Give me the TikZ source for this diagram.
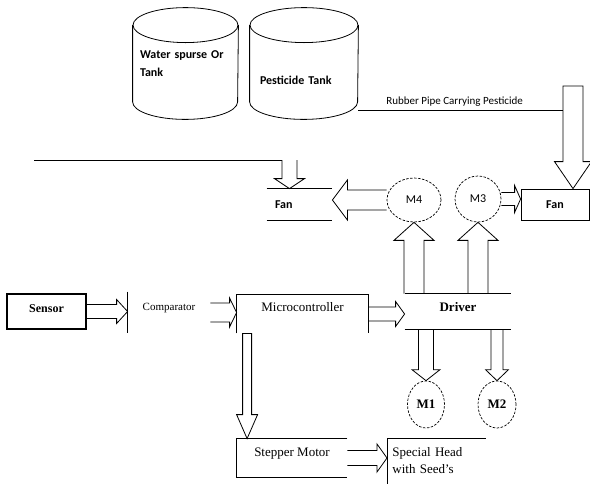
\documentclass[tikz,border=0pt]{standalone}
\usepackage{fontspec}
\setmainfont{Liberation Serif}
\newfontfamily\calibri{Carlito}
\usetikzlibrary{calc, positioning, shapes.geometric}
\tikzset{
    hollow end/.store in=\hollowend, hollow end={},
    closed/.style={hollow end={-- cycle}},
    % open block arrow: shaft half width, head half width, head length
    hollow/.style n args={3}{to path={
        let \p1=($(\tikztotarget)-(\tikztostart)$), \n1={veclen(\x1,\y1)}, \n2={atan2(\y1,\x1)} in
        {[shift={(\tikztostart)}, rotate=\n2]
        (0pt,#1pt) -- ({\n1-#3pt},#1pt) -- ({\n1-#3pt},#2pt) -- ({\n1},0pt)
        -- ({\n1-#3pt},-#2pt) -- ({\n1-#3pt},-#1pt) -- (0pt,-#1pt) \hollowend}}},
}

\begin{document}
\begin{tikzpicture}
    [x=1pt, y=-1pt, line width=0.8pt,
    every node/.style={inner sep=0pt},
    serif/.style={font=\fontsize{13}{17}\selectfont},
    serifbf/.style={font=\bfseries\fontsize{13}{17}\selectfont},
    sans/.style={font=\calibri\fontsize{12}{18}\selectfont},
    sansbf/.style={font=\calibri\bfseries\fontsize{12}{18}\selectfont},
    blk/.style={rectangle, text height=9pt},
    tank/.style={sansbf, minimum height=111pt, align=left},
    fan/.style={sansbf, minimum height=31pt},
    motor/.style={ellipse, draw, dash pattern=on 2.5pt off 1.5pt, line width=0.7pt}]
    \useasboundingbox (0,0) rectangle (590,483);

    % tanks
    \node[tank, minimum width=105pt, text width=91pt] (wt) at (185.5,63.5) {Water spurse Or\\Tank};
    \node[tank, minimum width=108pt, text width=88pt, text height=41.6pt, text depth=0pt] (pt) at (304,63.5) {Pesticide Tank};
    \foreach \tk/\r in {wt/52.5, pt/54}{
        \draw ([yshift=-17.5pt]\tk.north) ellipse [x radius=\r pt, y radius=17.5pt];
        \draw ([yshift=-17.5pt]\tk.north west) -- ([yshift=17.5pt]\tk.south west)
            arc [start angle=180, end angle=360, x radius=\r pt, y radius=17.5pt]
            -- ([yshift=-17.5pt]\tk.north east);
    }

    % fans and fan motors
    \node[fan, minimum width=65pt, text width=49pt, align=left] (fanL) at (299.5,204.5) {Fan};
    \node[fan, draw, minimum width=68pt] (fanR) at (555,204.5) {Fan};
    \node[motor, sans, minimum width=54pt, minimum height=44pt] (m4) at (414,200) {M4};
    \node[motor, sans, minimum width=46pt, minimum height=46pt] (m3) at (478,199) {M3};

    % control chain
    \node[blk, draw, line width=1.1pt, font=\bfseries\fontsize{12}{15}\selectfont,
        minimum width=79pt, minimum height=35pt, text depth=7pt] (sensor) at (46.5,311.5) {Sensor};
    \node[blk, font=\fontsize{11}{14}\selectfont, minimum width=82pt, minimum height=41pt, text depth=13pt] (comp) at (169,312.5) {Comparator};
    \node[blk, serif, minimum width=131pt, minimum height=38pt, text depth=14pt] (micro) at (302.5,314) {Microcontroller};
    \node[blk, serifbf, minimum width=106pt, minimum height=35pt, text depth=9pt] (driver) at (458,311.5) {Driver};
    \node[blk, serif, minimum width=110pt, minimum height=38pt, text depth=12pt] (stepper) at (292,458) {Stepper Motor};
    \node[serif, anchor=north west, minimum width=98pt, minimum height=45pt, text width=88pt, align=left] (special) at (387,438) {Special Head\\with Seed's};
    \node[motor, serifbf, minimum width=37pt, minimum height=47pt] (m1) at (426,404.5) {M1};
    \node[motor, serifbf, minimum width=38pt, minimum height=47pt] (m2) at (497,404.5) {M2};

    % open outlines
    \draw (fanL.north west) -- (fanL.north east) (fanL.south west) -- (fanL.south east);
    \draw[line width=1.1pt] (comp.north west) -- (comp.south west);
    \draw (micro.south west) -- (micro.north west) -- (micro.north east) -- (micro.south east);
    \draw (driver.north west) -- (driver.north east) (driver.south west) -- (driver.south east);
    \draw (stepper.north east) -- (stepper.north west) -- (stepper.south west) -- (stepper.south east);
    \draw (special.south west) -- (special.north west) -- (special.north east);

    % block arrows
    \draw[hollow={7}{12}{11}] (sensor.east) to (sensor.east -| comp.west);
    \draw[hollow={9.5}{14.5}{7}] (comp.east) to (comp.east -| micro.west);
    \draw[hollow={7}{12.5}{9}] (micro.east) to (micro.east -| driver.west);
    \draw[hollow={4.5}{10.5}{24}, closed] ([xshift=10.5pt]micro.south west) to ([xshift=10.5pt]stepper.north west);
    \draw[hollow={7.5}{14}{10}] (stepper.east) to (stepper.east -| special.west);
    \draw[hollow={10}{20}{18}] (driver.north -| m4.south) to (m4.south);
    \draw[hollow={10}{20}{18}] (driver.north -| m3.south) to (m3.south);
    \draw[hollow={7.5}{14}{11}] (driver.south -| m1.north) to (m1.north);
    \draw[hollow={6}{11.5}{11}] (driver.south -| m2.north) to (m2.north);
    \draw[hollow={10}{20}{15}] (m4.west) to (m4.west -| fanL.east);
    \draw[hollow={6.5}{13.5}{6}] (m3.east) to (m3.east -| fanR.west);

    % pipes
    \coordinate (drain) at (34,160);
    \coordinate (pipeL) at (289.5,160);
    \draw[line width=1pt] (drain) -- ([xshift=-7.5pt]pipeL);
    \draw[hollow={7.5}{15}{10}] (pipeL) to (pipeL |- fanL.north);
    \coordinate (pipeR) at (573,86);
    \coordinate (pipeout) at ([yshift=-46.5pt]pt.east);
    \draw[line width=1pt] (pipeout) -- node[pos=0.47, above=3pt, font=\calibri\fontsize{11}{13}\selectfont] (pipetext) {Rubber Pipe Carrying Pesticide} ([xshift=-10pt]pipeout -| pipeR);
    \draw[hollow={10}{18.5}{27}, closed] (pipeR) to (pipeR |- fanR.north);
\end{tikzpicture}
\end{document}
